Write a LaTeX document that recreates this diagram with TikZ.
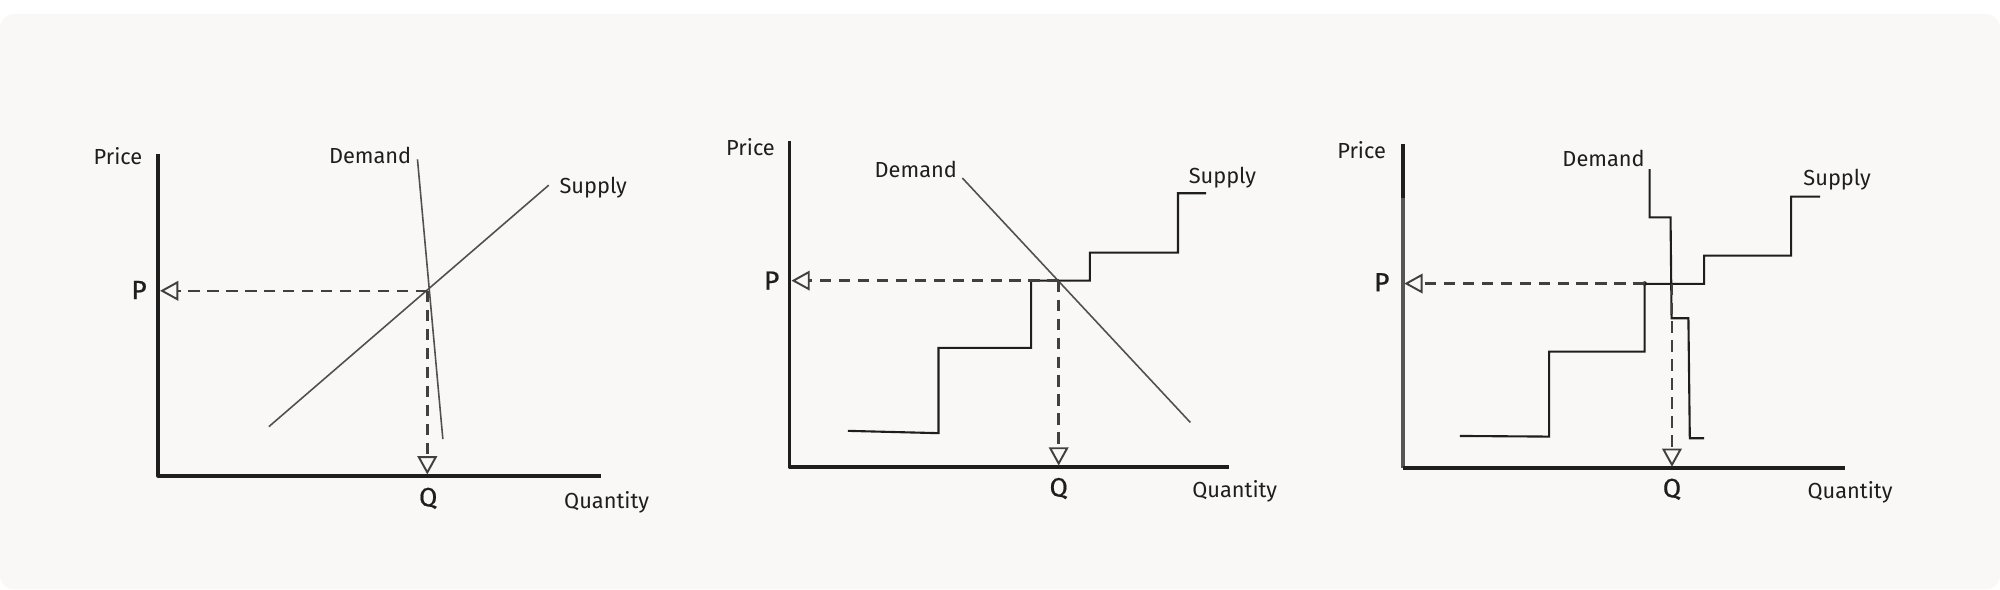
\documentclass[tikz,border=0pt]{standalone}
\usepackage{fontspec}
\setmainfont{Fira Sans}
\usetikzlibrary{arrows.meta}
\definecolor{panelbg}{RGB}{249,248,246}
\definecolor{ink}{RGB}{30,30,30}
\definecolor{curvegray}{RGB}{80,80,80}
\definecolor{axisgray}{RGB}{85,85,85}
\begin{document}
\begin{tikzpicture}[x=0.012755cm,y=-0.012755cm,
  axisline/.style={draw=ink,line width=1.1pt,line join=round},
  curveline/.style={draw=curvegray,line width=0.45pt},
  stepline/.style={draw=ink,line width=0.6pt,line join=miter},
  guide/.style={draw=ink!85,line width=0.72pt,dash pattern=on 3.2pt off 2.2pt,
    -{Triangle[open,length=5.2pt,width=5.6pt,line width=0.55pt]}},
  lbl/.style={font=\fontsize{6.2}{7}\selectfont,text=ink,inner sep=0pt},
  biglbl/.style={font=\fontsize{7.5}{8}\selectfont\addfontfeatures{FakeBold=0.6},text=ink,inner sep=0pt}]
\useasboundingbox (0,0) rectangle (1568,462);
\fill[white] (0,0) rectangle (1568,462);
\fill[panelbg,rounded corners=4pt] (0,11) rectangle (1568,462);

% ---------------- Chart 1 ----------------
\coordinate (a1top) at (124,121);
\coordinate (a1org) at (124,373);
\coordinate (a1end) at (471.4,373);
\draw[axisline] (a1top) -- (a1org) -- (a1end);
\node[lbl] (price1) at (92.5,122.4) {Price};
\node[lbl] (dem1) at (290.2,121.5) {Demand};
\node[lbl] (sup1) at (465.1,147.5) {Supply};
\node[biglbl] (p1lbl) at (109,227.4) {P};
\node[biglbl] (q1lbl) at (335.7,390.7) {Q};
\node[lbl] (qty1) at (475.6,393.7) {Quantity};
\coordinate (s1a) at (210.8,334.5);
\coordinate (s1b) at (430.2,145.2);
\coordinate (d1a) at (327.3,125);
\coordinate (d1b) at (347.2,344.3);
\draw[curveline] (s1a) -- (s1b);
\draw[curveline] (d1a) -- (d1b);
\coordinate (e1) at (335,228);
\coordinate (p1) at (125.5,228);
\coordinate (q1) at (335,372);
\draw[guide] (e1) -- (p1);
\draw[guide] (e1) -- (q1);

% ---------------- Chart 2 ----------------
\coordinate (a2top) at (619,110.4);
\coordinate (a2org) at (619,366);
\coordinate (a2end) at (963.2,366);
\draw[axisline] (a2top) -- (a2org) -- (a2end);
\node[lbl] (price2) at (588.4,115) {Price};
\node[lbl] (dem2) at (718,132.8) {Demand};
\node[lbl] (sup2) at (958.4,139.6) {Supply};
\node[biglbl] (p2lbl) at (605,220) {P};
\node[biglbl] (q2lbl) at (830,383) {Q};
\node[lbl] (qty2) at (968,385) {Quantity};
\coordinate (d2a) at (754.5,139.6);
\coordinate (d2b) at (933.2,331.2);
\draw[curveline] (d2a) -- (d2b);
\draw[stepline] (664.8,337.8) -- (735.8,339.6) -- (735.8,272.7) -- (808.4,272.7)
  -- (808.4,220) -- (854.5,220) -- (854.5,198.1) -- (923.5,198.1)
  -- (923.5,151.5) -- (945.5,151.5);
\coordinate (e2) at (830,220);
\coordinate (p2) at (620.5,220);
\coordinate (q2) at (830,365);
\draw[guide] (e2) -- (p2);
\draw[guide] (e2) -- (q2);

% ---------------- Chart 3 ----------------
\coordinate (a3top) at (1099.7,112.9);
\coordinate (a3mid) at (1099.7,155.4);
\coordinate (a3org) at (1099.7,367.1);
\coordinate (a3end) at (1446.2,367.1);
\draw[axisline,draw=axisgray] (a3mid) -- (a3org);
\draw[axisline] (a3top) -- (a3mid);
\draw[axisline] (a3org) -- (a3end);
\node[lbl] (price3) at (1067.5,117.6) {Price};
\node[lbl] (dem3) at (1257.2,124.6) {Demand};
\node[lbl] (sup3) at (1440.3,141.1) {Supply};
\node[biglbl] (p3lbl) at (1083.3,221.3) {P};
\node[biglbl] (q3lbl) at (1310.8,383.6) {Q};
\node[lbl] (qty3) at (1450.4,386.2) {Quantity};
\draw[stepline] (1144.5,341.8) -- (1214.5,342.3) -- (1214.5,275.7) -- (1289.4,275.7)
  -- (1289.4,222.6) -- (1336,222.6) -- (1336,200.4) -- (1404.2,200.4)
  -- (1404.2,154.2) -- (1427,154.2);
\draw[stepline] (1293.3,132.7) -- (1293.3,170.4) -- (1309.7,170.4) -- (1310.5,249.5)
  -- (1323.7,249.5) -- (1324.8,343.6) -- (1336,343.6);
\coordinate (e3) at (1289.4,222.3);
\coordinate (e3q) at (1310.8,222.3);
\coordinate (p3) at (1101,222.3);
\coordinate (q3) at (1310.8,366);
\fill[ink] (e3) circle (1.8);
\draw[guide] (e3) -- (p3);
\draw[guide] (e3q) -- (q3);
\end{tikzpicture}
\end{document}
